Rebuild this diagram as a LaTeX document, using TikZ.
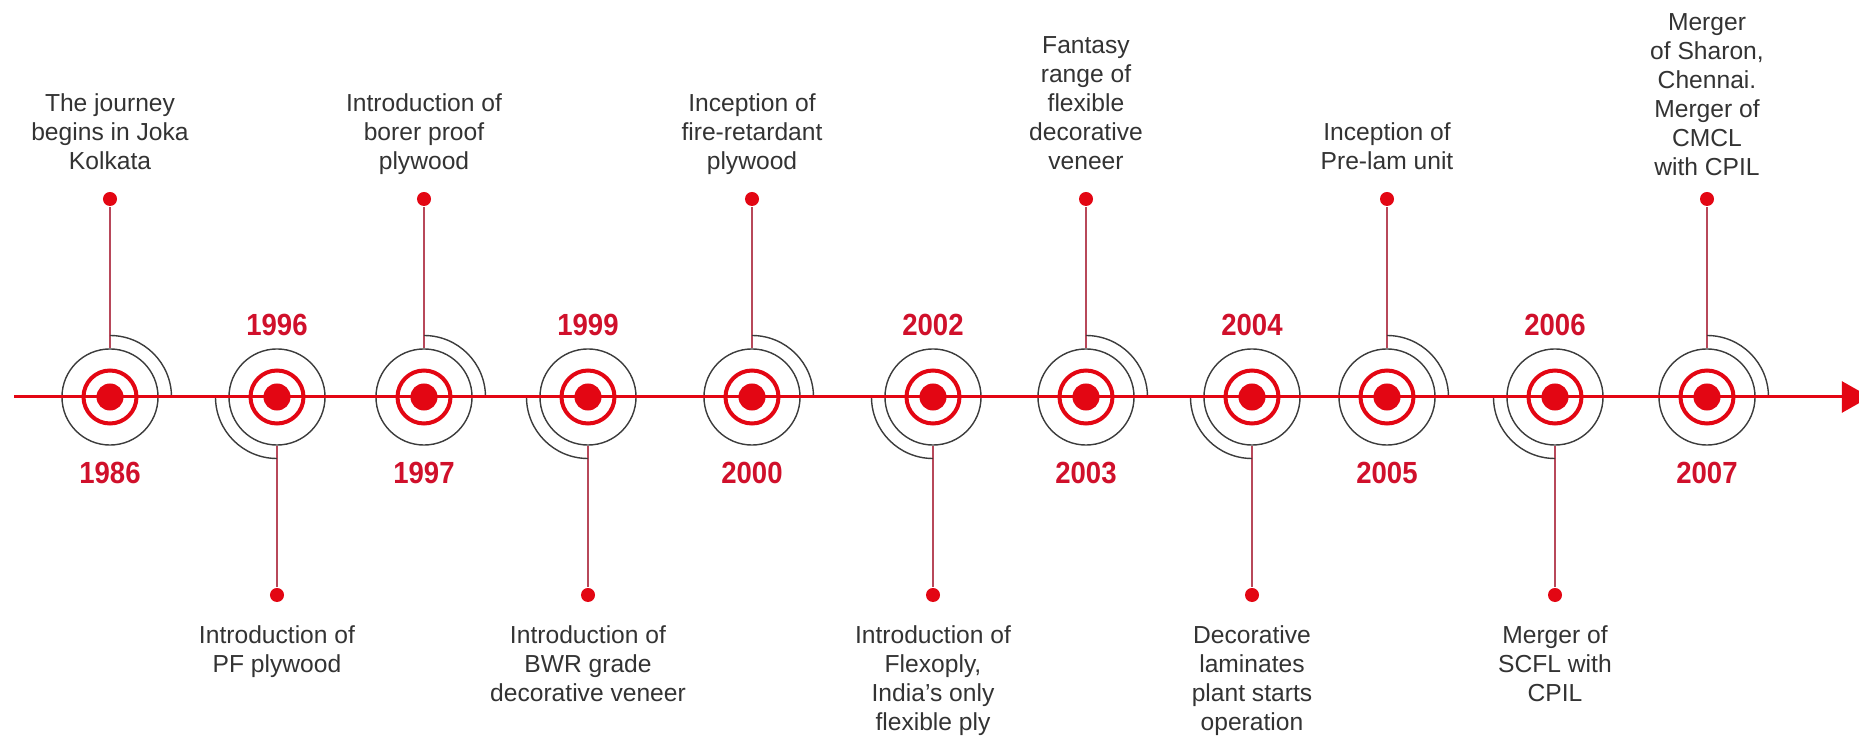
\documentclass[tikz,border=0pt]{standalone}
\usepackage{fontspec}
\setmainfont{Liberation Sans}
\newfontfamily\yilfont[FakeStretch=0.9]{Liberation Sans}
\usepackage{tikz}
\usetikzlibrary{arrows.meta}
\definecolor{parlakKirmizi}{HTML}{E30613}
\definecolor{koyuKirmizi}{HTML}{D0102B}
\definecolor{yaziGri}{HTML}{333333}
\definecolor{halkaGri}{HTML}{3C3C3C}
\definecolor{sapKirmizi}{HTML}{B8485A}

\begin{document}
\begin{tikzpicture}[x=0.01cm,y=0.01cm,
  merkez/.style={circle,fill=parlakKirmizi,minimum size=0.27cm,inner sep=0pt},
  dis/.style={circle,draw=halkaGri,line width=0.4pt,minimum size=0.96cm,inner sep=0pt},
  uc/.style={circle,fill=parlakKirmizi,minimum size=0.14cm,inner sep=0pt},
  halka/.style={draw=halkaGri,line width=0.4pt},
  sap/.style={draw=sapKirmizi,line width=0.4pt},
  yil/.style={inner sep=0pt,text=koyuKirmizi,font=\yilfont\bfseries\fontsize{8.7}{10}\selectfont},
  olay/.style={inner sep=0pt,align=center,text=yaziGri,font=\fontsize{7}{8.25}\selectfont}]
\useasboundingbox (0,0) rectangle (1859,748);
\foreach \x/\yil/\yon/\dy/\metin in {
  110/1986/u/0/{The journey\\begins in Joka\\Kolkata},
  277/1996/d/0/{Introduction of\\PF plywood},
  424/1997/u/0/{Introduction of\\borer proof\\plywood},
  588/1999/d/0/{Introduction of\\BWR grade\\decorative veneer},
  752/2000/u/0/{Inception of\\fire-retardant\\plywood},
  933/2002/d/0/{Introduction of\\Flexoply,\\India's only\\flexible ply},
  1086/2003/u/0/{Fantasy\\range of\\flexible\\decorative\\veneer},
  1252/2004/d/0/{Decorative\\laminates\\plant starts\\operation},
  1387/2005/u/0/{Inception of\\Pre-lam unit},
  1555/2006/d/0/{Merger of\\SCFL with\\CPIL},
  1707/2007/u/-6/{Merger\\of Sharon,\\Chennai.\\Merger of\\CMCL\\with CPIL}}{
  \node[merkez] (c\yil) at (\x,351) {};
  \node[dis] (o\yil) at (\x,351) {};
  \draw[parlakKirmizi,line width=0.04cm] (c\yil.center) circle (26.5);
  \if\yon u
    \node[uc] (d\yil) at (\x,549) {};
    \draw[sap] (o\yil) -- (d\yil);
    \draw[halka] (c\yil.center) ++(0,61.5) arc[start angle=90,end angle=0,radius=61.5];
    \node[yil] (y\yil) at (\x,275) {\yil};
    \node[olay,anchor=south] (t\yil) at (\x,569+\dy) {\metin\strut};
  \else
    \node[uc] (d\yil) at (\x,153) {};
    \draw[sap] (o\yil) -- (d\yil);
    \draw[halka] (c\yil.center) ++(-61.5,0) arc[start angle=180,end angle=270,radius=61.5];
    \node[yil] (y\yil) at (\x,423) {\yil};
    \node[olay,anchor=north] (t\yil) at (\x,126) {\strut\metin};
  \fi
}
% time axis
\coordinate (basla) at (14,351);
\coordinate (bitis) at (1870,351);
\draw[parlakKirmizi,line width=0.03cm,-{Triangle[length=8pt,width=8.8pt]}] (basla) -- (bitis);
\end{tikzpicture}
\end{document}
